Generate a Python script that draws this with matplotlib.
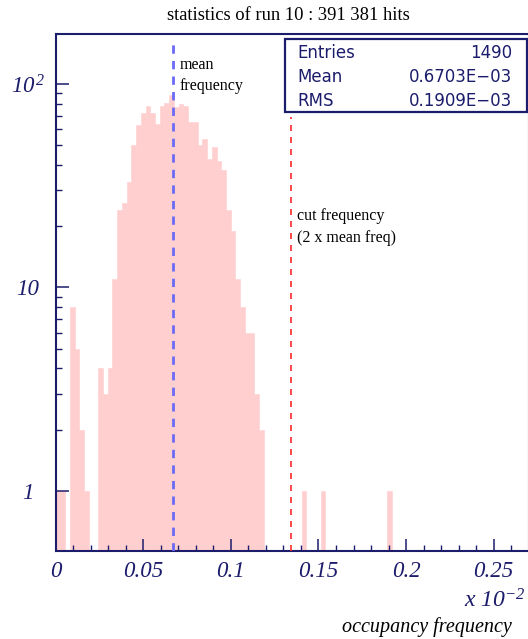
import numpy as np
import matplotlib.pyplot as plt
from matplotlib.ticker import FixedLocator, NullFormatter

plt.rcParams['mathtext.fontset'] = 'custom'
plt.rcParams['mathtext.rm'] = 'Liberation Serif:italic'
plt.rcParams['mathtext.it'] = 'Liberation Serif:italic'

# Histogram definition: 100 bins between 0 and 0.27 (x 10^-2)
n_bins = 100
x_low, x_high = 0.0, 0.27

# Non-empty bins: bin index -> entries
bin_index = [0, 1, 3, 4, 5, 6, 9, 10, 11, 12, 13, 14, 15, 16, 17, 18, 19, 20,
             21, 22, 23, 24, 25, 26, 27, 28, 29, 30, 31, 32, 33, 34, 35, 36,
             37, 38, 39, 40, 41, 42, 43, 52, 56, 70]
bin_count = [1, 1, 8, 5, 2, 1, 4, 3, 4, 11, 24, 26, 33, 50, 63, 72, 78, 72,
             64, 78, 81, 88, 77, 80, 78, 65, 65, 50, 54, 43, 49, 42, 38, 24,
             19, 11, 8, 6, 6, 3, 2, 1, 1, 1]

entries = 1490
mean_freq = 0.06703
rms_freq = 0.01909
cut_freq = 2 * mean_freq

title = "statistics of run 10 : 391 381 hits"
x_tick_values = [0, 0.05, 0.1, 0.15, 0.2, 0.25]
x_tick_labels = ["0", "0.05", "0.1", "0.15", "0.2", "0.25"]
y_tick_values = [1, 10, 100]
y_tick_labels = ["1", "10", r"$10^{\,2}$"]

navy = '#1c1c6c'
pink = '#ffcfcf'

W, H = 528, 639
fig = plt.figure(figsize=(W / 100, H / 100), dpi=100)


def fx(px):
    return px / W


def fy(py):
    return 1 - py / H


y_low, y_high = 0.505, 176
ax = fig.add_axes([fx(55.7), fy(551), fx(528.7) - fx(55.7), fy(34.3) - fy(551)])
ax.set_yscale('log')
ax.set_xlim(x_low, x_high)
ax.set_ylim(y_low, y_high)

edges = np.linspace(x_low, x_high, n_bins + 1)
width = edges[1] - edges[0]
counts = np.zeros(n_bins)
counts[bin_index] = bin_count
nz = counts > 0
base = 0.3  # below the visible range of the log axis
ax.bar(edges[:-1][nz], counts[nz] - base, width=width, align='edge',
       bottom=base, color=pink, edgecolor=pink, linewidth=0.4, zorder=1)

# mean and cut lines
ax.plot([mean_freq, mean_freq], [y_low, 165], color='#6a6af5', lw=2.0,
        dashes=(3.0, 2.6), zorder=3)
ax.plot([cut_freq, cut_freq], [y_low, 69], color='#ff2a2a', lw=1.2,
        dashes=(3.6, 3.6), zorder=3)

for s in ax.spines.values():
    s.set_color(navy)
    s.set_linewidth(1.5)

ax.xaxis.set_major_locator(FixedLocator(x_tick_values))
ax.xaxis.set_minor_locator(FixedLocator(np.arange(0, 0.2701, 0.01)))
ax.set_xticklabels(x_tick_labels)
ax.yaxis.set_major_locator(FixedLocator(y_tick_values))
minor_y = [m * d for d in (1, 10, 100) for m in range(2, 10)]
ax.yaxis.set_minor_locator(FixedLocator(minor_y))
ax.yaxis.set_minor_formatter(NullFormatter())
ax.set_yticklabels(y_tick_labels)

ax.tick_params(axis='both', which='major', direction='in', length=9, width=1.1,
               color=navy, labelcolor=navy)
ax.tick_params(axis='both', which='minor', direction='in', length=4.3, width=1.0,
               color=navy)
ax.tick_params(axis='x', which='major', pad=7, labelsize=16.5)
ax.tick_params(axis='y', which='major', pad=20, labelsize=16.5)
for lab in ax.get_xticklabels() + ax.get_yticklabels():
    lab.set_fontfamily('Liberation Serif')
    lab.set_fontstyle('italic')
for lab in ax.get_yticklabels():
    lab.set_horizontalalignment('center')

# title and annotations
fig.text(fx(288), fy(16), title, ha='center', va='center',
         family='Liberation Serif', fontsize=13.3, color='black')
ax.text(fx(180), fy(65), "mean", transform=fig.transFigure, ha='left',
        va='center', family='Liberation Serif', fontsize=11.5)
ax.text(fx(180), fy(86), "frequency", transform=fig.transFigure, ha='left',
        va='center', family='Liberation Serif', fontsize=11.5)
ax.text(fx(297), fy(216), "cut frequency", transform=fig.transFigure,
        ha='left', va='center', family='Liberation Serif', fontsize=11.5)
ax.text(fx(297), fy(238), "(2 x mean freq)", transform=fig.transFigure,
        ha='left', va='center', family='Liberation Serif', fontsize=11.5)

fig.text(fx(525), fy(601), r"$x\ 10^{-2}$", ha='right', va='center',
         fontsize=17, color=navy)
fig.text(fx(512), fy(627), "occupancy frequency", ha='right', va='center',
         family='Liberation Serif', fontstyle='italic', fontsize=14.5)

# statistics box
box = plt.Rectangle((fx(284.7), fy(111.7)), fx(526.7) - fx(284.7),
                    fy(39.3) - fy(111.7), transform=fig.transFigure,
                    facecolor='white', edgecolor=navy, linewidth=1.6, zorder=5)
fig.add_artist(box)
stats = [("Entries", f"{entries}"),
         ("Mean", "0.6703E\u221203"),
         ("RMS", "0.1909E\u221203")]
for i, (name, val) in enumerate(stats):
    yy = fy(52.7 + 24 * i)
    fig.text(fx(297.3), yy, name, ha='left', va='center', family='DejaVu Sans',
             fontsize=12, color=navy, zorder=6)
    fig.text(fx(512), yy, val, ha='right', va='center', family='DejaVu Sans',
             fontsize=12, color=navy, zorder=6)

fig.savefig('out.png', dpi=100)
